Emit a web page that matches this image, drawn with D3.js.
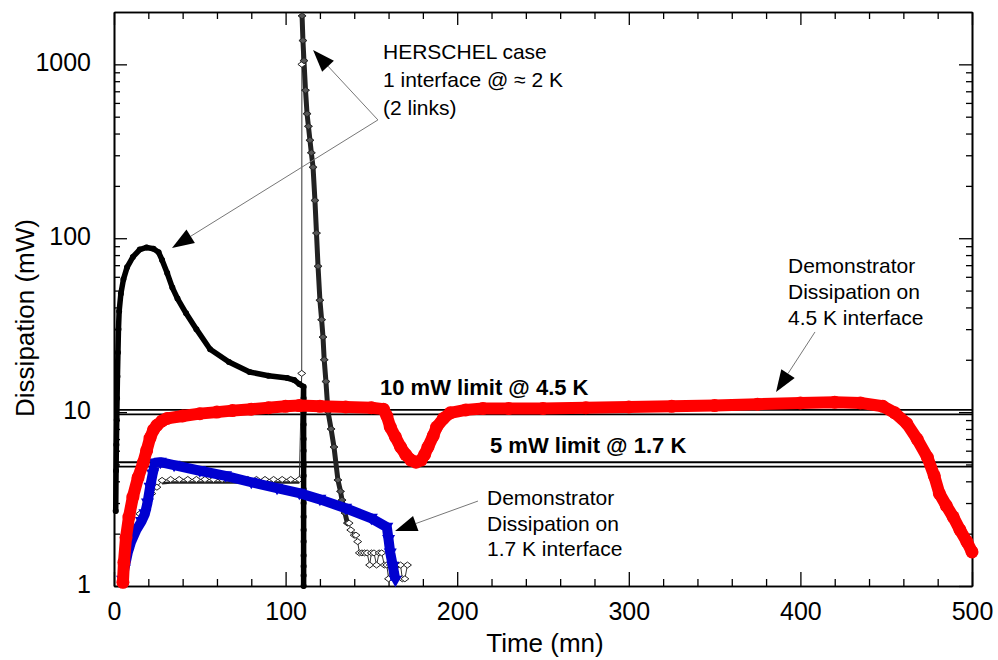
<!DOCTYPE html>
<html>
<head>
<meta charset="utf-8">
<script src="https://cdn.jsdelivr.net/npm/d3@7"></script>
<style>
  body { margin: 0; background: #fff; }
  svg { display: block; font-family: "Liberation Sans", Arial, sans-serif; }
</style>
</head>
<body>
<div id="graph"></div>
<script>
// series, [time (mn), dissipation (mW)]
// HERSCHEL case, first link (thick black)
const herschelLink1 = [
  [1.0, 2.7], [1.2, 4.6], [1.4, 6.5], [1.6, 9], [1.8, 12], [2.0, 16], [2.3, 22],
  [2.6, 30], [3.0, 38], [4, 48], [5.5, 58], [7.6, 68], [11, 78], [15, 86],
  [19, 88.5], [23, 87], [26, 83], [28, 75], [31, 63], [34, 52], [37, 45],
  [42, 37], [48, 30], [56, 23], [67, 19.4], [79, 17], [90, 16.2], [101, 15.7],
  [105, 15.3], [108, 14.5], [110.5, 14], [110.5, 12], [110.5, 10], [110.5, 8.5],
  [110.5, 7], [110.5, 6], [110.5, 5], [110.5, 4.3], [110.5, 3.6], [110.5, 3],
  [110.5, 2.5], [110.5, 2.1], [110.5, 1.8], [110.5, 1.5], [110.5, 1.3],
  [110.5, 1.15], [110.5, 1.0]
];
// HERSCHEL case, second link (diamonds, thin line)
const herschelLink2 = [
  [5, 1.05], [8, 1.5], [12, 2.1], [15, 2.6], [19, 3.0], [22, 3.4], [25, 3.7],
  [28, 4.05], [33, 4.1], [38, 4.1], [43, 4.1], [48, 4.1], [53, 4.1], [58, 4.1],
  [63, 4.1], [68, 4.1], [73, 4.1], [78, 4.1], [83, 4.1], [88, 4.1], [93, 4.1],
  [98, 4.1], [103, 4.1], [108, 4.1], [109.4, 16.7], [109.5, 1000],
  [109.6, 1900], [110.1, 1370], [110.7, 1050], [111.6, 710], [112.5, 520],
  [113.3, 440], [114.2, 366], [115, 310], [116, 256], [117.1, 165], [118, 107],
  [118.9, 69], [120, 44], [121, 34], [121.8, 27], [122.5, 20], [123.5, 15],
  [124.7, 10.1], [126.5, 8], [128.2, 6.3], [130.5, 4.07], [132, 3.5],
  [132.9, 3.12], [134.6, 2.63], [136, 2.3], [137, 2.3], [138, 2.1], [140, 1.96],
  [141, 1.96], [142, 1.8], [143, 1.55], [144.5, 1.55], [146, 1.55], [147.5, 1.55],
  [149, 1.32], [150, 1.55], [151.5, 1.55], [153, 1.32], [154.5, 1.55], [156, 1.55],
  [157.5, 1.32], [159, 1.32], [160, 1.1], [161, 1.32], [162.5, 1.32], [164, 1.1],
  [165.5, 1.32], [167, 1.32], [168, 1.1], [169.5, 1.1], [171, 1.32]
];
// Demonstrator, 4.5 K interface (red)
const demo45K = [
  [5.2, 1.05], [5.8, 1.37], [7, 1.9], [8.7, 2.49], [11, 3.25], [14, 4.2],
  [17, 5.1], [19, 6.0], [21, 7.1], [23, 7.9], [25, 8.4], [28, 8.9], [31, 9.2],
  [40, 9.5], [50, 9.8], [60, 10.0], [69, 10.2], [80, 10.4], [90, 10.6],
  [100, 10.8], [108, 10.9], [120, 10.8], [135, 10.7], [150, 10.6], [157, 10.4],
  [159, 9.5], [161, 8.2], [164, 7.2], [167, 6.3], [170, 5.7], [173, 5.3],
  [176, 5.15], [179, 5.3], [181, 5.7], [183, 6.3], [186, 7.3], [188, 8.2],
  [192, 9.2], [196, 9.9], [205, 10.3], [215, 10.5], [230, 10.5], [250, 10.5],
  [275, 10.6], [300, 10.7], [325, 10.8], [350, 10.9], [375, 11.1], [400, 11.3],
  [420, 11.4], [435, 11.3], [448, 10.8], [455, 9.9], [462, 8.6], [468, 7.0],
  [474, 5.5], [478, 4.3], [481, 3.4], [485, 2.9], [489, 2.5], [493, 2.1],
  [497, 1.8], [500, 1.57]
];
// Demonstrator, 1.7 K interface (blue)
const demo17K = [
  [5, 1.08], [6, 1.25], [8, 1.55], [10, 1.8], [13, 2.1], [16, 2.35], [18, 2.6],
  [19.5, 3.0], [21, 3.7], [22.5, 4.4], [24, 5.1], [27, 5.15], [35, 4.95],
  [50, 4.6], [65, 4.3], [80, 3.95], [95, 3.65], [108, 3.42], [120, 3.15],
  [135, 2.8], [150, 2.45], [159, 2.18], [160, 1.85], [161, 1.55], [162.5, 1.3],
  [164, 1.08]
];

const limitValues = [10, 5];
const limitLabels = ["10 mW limit @ 4.5 K", "5 mW limit @ 1.7 K"];
const xMajorTicks = [0, 100, 200, 300, 400, 500];
const yMajorTicks = [1, 10, 100, 1000];

const herschelText = ["HERSCHEL case", "1 interface @ \u2248 2 K", "(2 links)"];
const demo45Text = ["Demonstrator", "Dissipation on", "4.5 K interface"];
const demo17Text = ["Demonstrator", "Dissipation on", "1.7 K interface"];

// arrows: tail and tip in data units
const arrows = [
  { from: [153.8, 479], to: [116, 1208] },
  { from: [153.8, 479], to: [33.8, 88] },
  { from: [408.5, 28.9], to: [385.8, 13.05] },
  { from: [212.1, 3.08], to: [163.8, 2.07] }
];

function draw() {
  let width = 998, height = 660;
  let svg = d3.select("#graph").append("svg")
    .attr("width", width).attr("height", height);
  svg.append("rect").attr("width", width).attr("height", height).attr("fill", "#fff");

  let x = d3.scaleLinear().domain([0, 500]).range([114, 972]);
  let y = d3.scaleLog().domain([1, 2000]).range([586, 12]);

  let xMinor = d3.range(0, 501, 20).filter(d => d % 100 !== 0);
  let yMinor = [];
  [1, 10, 100, 1000].forEach(dec => {
    for (let k = 2; k <= 9; k++) if (k * dec < 2000) yMinor.push(k * dec);
  });

  // axes, ticks pointing inward
  let axes = svg.append("g");
  axes.append("g").attr("transform", "translate(0,586)")
    .call(d3.axisBottom(x).tickValues(xMajorTicks).tickSizeInner(-14).tickSizeOuter(0).tickPadding(16));
  axes.append("g").attr("transform", "translate(0,586)")
    .call(d3.axisBottom(x).tickValues(xMinor).tickSizeInner(-7).tickSizeOuter(0).tickFormat(""));
  axes.append("g").attr("transform", "translate(0,12)")
    .call(d3.axisTop(x).tickValues(xMajorTicks).tickSizeInner(-13).tickSizeOuter(0).tickFormat(""));
  axes.append("g").attr("transform", "translate(0,12)")
    .call(d3.axisTop(x).tickValues(xMinor).tickSizeInner(-7).tickSizeOuter(0).tickFormat(""));
  axes.append("g").attr("class", "yleft").attr("transform", "translate(114,0)")
    .call(d3.axisLeft(y).tickValues(yMajorTicks).tickSizeInner(-13).tickSizeOuter(0)
      .tickPadding(23).tickFormat(d3.format("d")));
  axes.append("g").attr("transform", "translate(114,0)")
    .call(d3.axisLeft(y).tickValues(yMinor).tickSizeInner(-6).tickSizeOuter(0).tickFormat(""));
  axes.append("g").attr("transform", "translate(972,0)")
    .call(d3.axisRight(y).tickValues(yMajorTicks).tickSizeInner(-13).tickSizeOuter(0).tickFormat(""));
  axes.append("g").attr("transform", "translate(972,0)")
    .call(d3.axisRight(y).tickValues(yMinor).tickSizeInner(-6).tickSizeOuter(0).tickFormat(""));
  axes.selectAll("path.domain").attr("stroke", "#000").attr("stroke-width", 1.6);
  axes.selectAll(".tick line").attr("stroke", "#000").attr("stroke-width", 1.3);
  axes.selectAll(".tick text").attr("fill", "#000").style("font-size", "25px")
    .style("font-family", "Liberation Sans, Arial, sans-serif");
  axes.selectAll(".yleft .tick text").attr("dy", "0.24em");

  // axis titles
  svg.append("text").attr("x", 545).attr("y", 652).attr("text-anchor", "middle")
    .style("font-size", "26px").text("Time (mn)");
  svg.append("text").attr("transform", "translate(34,318) rotate(-90)")
    .attr("text-anchor", "middle").style("font-size", "26px").text("Dissipation (mW)");

  // limit lines, drawn as double lines
  let limits = svg.append("g");
  limitValues.forEach(v => {
    [-2.2, 2.2].forEach(off => {
      limits.append("line")
        .attr("x1", x(0)).attr("x2", x(500))
        .attr("y1", y(v) + off).attr("y2", y(v) + off)
        .attr("stroke", "#000").attr("stroke-width", 1.8);
    });
  });
  limits.append("text").attr("x", 380).attr("y", 395)
    .style("font-size", "22px").style("font-weight", "bold").text(limitLabels[0]);
  limits.append("text").attr("x", 490).attr("y", 453)
    .style("font-size", "22px").style("font-weight", "bold").text(limitLabels[1]);

  let line = d3.line().x(d => x(d[0])).y(d => y(d[1]));

  // HERSCHEL link 2: thin line + diamonds, dense band on the decay
  svg.append("path").datum(herschelLink2).attr("d", line)
    .attr("fill", "none").attr("stroke", "#333").attr("stroke-width", 1);
  svg.append("path").datum(herschelLink2.filter(d => d[0] >= 109.6 && d[0] <= 136))
    .attr("d", line).attr("fill", "none").attr("stroke", "#222")
    .attr("stroke-width", 5).attr("stroke-linejoin", "round");
  svg.append("path").datum(herschelLink2.filter(d => d[0] >= 28 && d[0] <= 108))
    .attr("d", line).attr("fill", "none").attr("stroke", "#222")
    .attr("stroke-width", 2.5).attr("transform", "translate(0,3)");
  svg.append("g").selectAll("path").data(herschelLink2).join("path")
    .attr("transform", d => `translate(${x(d[0])},${y(d[1])})`)
    .attr("d", "M0,-3L4,0L0,3L-4,0Z")
    .attr("fill", d => (d[0] >= 109.6 && d[0] <= 136) ? "#555" : "#fff")
    .attr("stroke", "#222").attr("stroke-width", 1);

  // HERSCHEL link 1: thick black
  svg.append("path").datum(herschelLink1).attr("d", line)
    .attr("fill", "none").attr("stroke", "#000").attr("stroke-width", 5.5)
    .attr("stroke-linejoin", "round").attr("stroke-linecap", "round");
  svg.append("g").selectAll("circle").data(herschelLink1).join("circle")
    .attr("cx", d => x(d[0])).attr("cy", d => y(d[1])).attr("r", 2.4)
    .attr("fill", "none").attr("stroke", "#000").attr("stroke-width", 1.2);

  // Demonstrator 1.7 K: blue, down triangles
  svg.append("path").datum(demo17K).attr("d", line)
    .attr("fill", "none").attr("stroke", "#0000d0").attr("stroke-width", 10)
    .attr("stroke-linejoin", "round");
  svg.append("g").selectAll("path").data(demo17K).join("path")
    .attr("transform", d => `translate(${x(d[0])},${y(d[1])})`)
    .attr("d", "M-6.5,-4.5L6.5,-4.5L0,7Z").attr("fill", "#0000d0");

  // Demonstrator 4.5 K: red, circles
  svg.append("path").datum(demo45K).attr("d", line)
    .attr("fill", "none").attr("stroke", "#ff0000").attr("stroke-width", 12)
    .attr("stroke-linejoin", "round").attr("stroke-linecap", "round");
  svg.append("g").selectAll("circle").data(demo45K).join("circle")
    .attr("cx", d => x(d[0])).attr("cy", d => y(d[1])).attr("r", 6.5)
    .attr("fill", "#ff0000");

  // arrows
  let arr = svg.append("g");
  arrows.forEach(a => {
    let x1 = x(a.from[0]), y1 = y(a.from[1]), x2 = x(a.to[0]), y2 = y(a.to[1]);
    let ang = Math.atan2(y2 - y1, x2 - x1);
    let len = 22, hw = 8;
    let bx = x2 - len * Math.cos(ang), by = y2 - len * Math.sin(ang);
    arr.append("line").attr("x1", x1).attr("y1", y1).attr("x2", bx).attr("y2", by)
      .attr("stroke", "#777").attr("stroke-width", 1);
    let pts = [
      [x2, y2],
      [bx + hw * Math.sin(ang), by - hw * Math.cos(ang)],
      [bx - hw * Math.sin(ang), by + hw * Math.cos(ang)]
    ];
    arr.append("path").attr("d", "M" + pts.join("L") + "Z").attr("fill", "#000");
  });

  // annotation texts
  function addLines(lines, x0, y0, step) {
    let t = svg.append("text").style("font-size", "21px");
    lines.forEach((s, i) => t.append("tspan").attr("x", x0).attr("y", y0 + i * step).text(s));
  }
  addLines(herschelText, 383, 59, 28);
  addLines(demo45Text, 788, 273, 26);
  addLines(demo17Text, 487, 505, 25.5);
}

draw();
</script>
</body>
</html>
